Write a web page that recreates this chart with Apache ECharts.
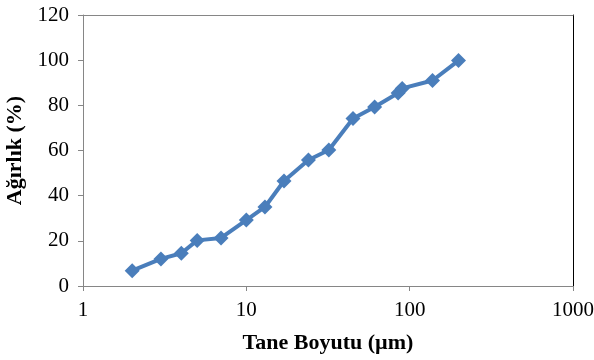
<!DOCTYPE html>
<html>
<head>
<meta charset="utf-8">
<script src="https://cdn.jsdelivr.net/npm/echarts@6/dist/echarts.min.js"></script>
<style>
  html, body { margin: 0; padding: 0; background: #fff; }
  #chart { width: 594px; height: 360px; }
</style>
</head>
<body>
<div id="chart"></div>
<script>
// Particle size (µm) and cumulative weight (%)
const sizes   = [2, 3, 4, 5, 7, 10, 13, 17, 24, 32, 45, 61, 85, 90, 138, 199];
const weights = [6.8, 12, 14.5, 20.2, 21.3, 29.2, 35, 46.5, 55.8, 60.2, 74.2, 79.3, 85.5, 87.5, 91, 99.8];
const xTitle = 'Tane Boyutu (µm)';
const yTitle = 'Ağırlık (%)';

const seriesData = sizes.map((s, i) => [s, weights[i]]);

const font = '"Liberation Serif", "Times New Roman", serif';
const axisGray = '#868686';

const chart = echarts.init(document.getElementById('chart'), null, { renderer: 'canvas' });
chart.setOption({
  animation: false,
  backgroundColor: '#fff',
  grid: { left: 83, right: 21, top: 15, bottom: 74, outerBoundsMode: 'none', containLabel: false },
  xAxis: [{
    type: 'log',
    logBase: 10,
    min: 1,
    max: 1000,
    name: xTitle,
    nameLocation: 'middle',
    nameGap: 46,
    nameTextStyle: { fontFamily: font, fontSize: 22, fontWeight: 'bold', color: '#000' },
    axisLine: { show: true, onZero: false, lineStyle: { color: axisGray, width: 1 } },
    axisTick: { show: true, length: 5, lineStyle: { color: axisGray } },
    axisLabel: {
      fontFamily: font, fontSize: 21, color: '#000', margin: 14,
      formatter: v => String(Math.round(v))
    },
    splitLine: { show: false },
    minorTick: { show: false }
  }, {
    // plot-area frame along the top edge
    type: 'value',
    min: 0,
    max: 1,
    position: 'top',
    axisLine: { show: true, onZero: false, lineStyle: { color: axisGray, width: 1 } },
    axisTick: { show: false },
    axisLabel: { show: false },
    splitLine: { show: false }
  }],
  yAxis: [{
    type: 'value',
    min: 0,
    max: 120,
    interval: 20,
    name: yTitle,
    nameLocation: 'middle',
    nameGap: 51,
    nameTextStyle: { fontFamily: font, fontSize: 22, fontWeight: 'bold', color: '#000' },
    axisLine: { show: true, lineStyle: { color: axisGray, width: 1 } },
    axisTick: { show: true, length: 5, lineStyle: { color: axisGray } },
    axisLabel: { fontFamily: font, fontSize: 21, color: '#000', margin: 14 },
    splitLine: { show: false }
  }, {
    // plot-area frame along the right edge
    type: 'value',
    min: 0,
    max: 120,
    interval: 20,
    position: 'right',
    axisLine: { show: true, onZero: false, lineStyle: { color: '#000', width: 1 } },
    axisTick: { show: false },
    axisLabel: { show: false },
    splitLine: { show: false }
  }],
  series: [{
    type: 'line',
    data: seriesData,
    symbol: 'diamond',
    symbolSize: 15,
    lineStyle: { color: '#4a7ebb', width: 4 },
    itemStyle: { color: '#4a7ebb' },
    emphasis: { disabled: true }
  }]
});
</script>
</body>
</html>
